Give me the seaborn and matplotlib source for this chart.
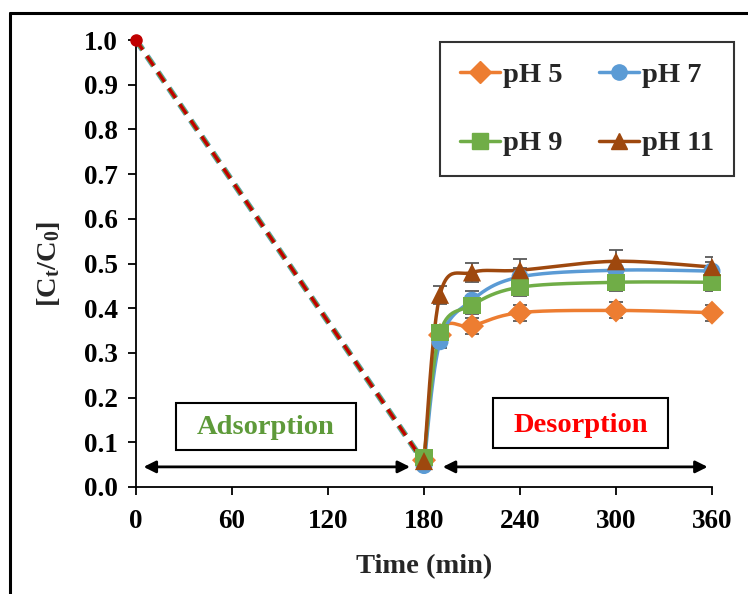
import numpy as np
import matplotlib
matplotlib.use("Agg")
import matplotlib.pyplot as plt
import seaborn as sns
import pandas as pd
from matplotlib.lines import Line2D

# ---------------- data ----------------
ads_time = [0, 180]
ads_value = [1.0, 0.055]

des_time = [180, 190, 210, 240, 300, 360]
ph5 = [0.060, 0.340, 0.360, 0.390, 0.395, 0.390]
ph7 = [0.048, 0.325, 0.418, 0.470, 0.485, 0.483]
ph9 = [0.066, 0.345, 0.407, 0.447, 0.458, 0.458]
ph11 = [0.058, 0.430, 0.480, 0.485, 0.505, 0.492]
err5 = [0.0, 0.015, 0.018, 0.018, 0.018, 0.018]
err7 = [0.0, 0.015, 0.02, 0.02, 0.02, 0.02]
err9 = [0.0, 0.015, 0.02, 0.02, 0.02, 0.02]
err11 = [0.0, 0.02, 0.022, 0.025, 0.025, 0.022]
labels = ["pH 5", "pH 7", "pH 9", "pH 11"]
colors = ["#ED7D31", "#5B9BD5", "#70AD47", "#9E480E"]
markers = ["D", "o", "s", "^"]
xticks = [0, 60, 120, 180, 240, 300, 360]

sns.set_theme(style="ticks")
plt.rcParams["font.family"] = ["Liberation Serif", "DejaVu Serif"]
plt.rcParams["font.weight"] = "bold"
plt.rcParams["mathtext.default"] = "regular"
plt.rcParams["lines.scale_dashes"] = False

FS = 19.5

fig = plt.figure(figsize=(7.48, 5.94), dpi=100)
W, H = 748, 594
ax = fig.add_axes([136 / W, 1 - 487 / H, (712 - 136) / W, (487 - 40) / H])

def smooth(xs, ys, n=30):
    # Excel-like smoothed line (cubic Bezier through the points), in display-like units
    sx, sy = 576 / 360.0, 447.0
    P = np.column_stack([np.asarray(xs) * sx, np.asarray(ys) * sy])
    P = np.vstack([P[0], P, P[-1]])
    out = []
    for i in range(1, len(P) - 2):
        p0, p1, p2, p3 = P[i - 1], P[i], P[i + 1], P[i + 2]
        c1 = p1 + (p2 - p0) / 6.0
        c2 = p2 - (p3 - p1) / 6.0
        t = np.linspace(0, 1, n)[:, None]
        seg = (1 - t) ** 3 * p1 + 3 * (1 - t) ** 2 * t * c1 + 3 * (1 - t) * t ** 2 * c2 + t ** 3 * p2
        out.append(seg)
    out = np.vstack(out)
    return out[:, 0] / sx, out[:, 1] / sy

# adsorption dashed lines (overlapping series)
for c, lw in [("#5B9BD5", 4.4), ("#70AD47", 3.6), ("#C00000", 2.4)]:
    ax.plot(ads_time, ads_value, ls=(0, (8.5, 5.5)), color=c, lw=lw, zorder=2, clip_on=False)
ax.plot([0], [1.0], "o", color="#C00000", ms=8, zorder=5, clip_on=False)

series = [ph5, ph7, ph9, ph11]
errs = [err5, err7, err9, err11]
rows = []
for lab, s in zip(labels, series):
    for t, v in zip(des_time, s):
        rows.append({"time": t, "value": v, "series": lab})
df = pd.DataFrame(rows)

for lab, s, e, c, m in zip(labels, series, errs, colors, markers):
    xs, ys = smooth(des_time, s)
    ax.plot(xs, ys, color=c, lw=2.5, zorder=3)
    ax.errorbar(des_time[1:], s[1:], yerr=e[1:], fmt="none", ecolor="#595959",
                elinewidth=1.3, capsize=5, capthick=1.3, zorder=2)
    sub = df[df["series"] == lab]
    sns.scatterplot(data=sub, x="time", y="value", marker=m, color=c, s=150 if m != "^" else 170,
                    edgecolor="none", ax=ax, zorder=4, legend=False, clip_on=False)

ax.set_xlim(0, 360)
ax.set_ylim(0, 1.0)
ax.set_xticks(xticks)
ax.set_yticks(np.round(np.arange(0, 1.01, 0.1), 1))
ax.set_yticklabels([f"{v:.1f}" for v in np.arange(0, 1.01, 0.1)])
ax.tick_params(axis="both", labelsize=FS, length=6, width=1.3, direction="out", pad=7, colors="black")
ax.tick_params(axis="x", pad=10)
for lab in ax.get_xticklabels() + ax.get_yticklabels():
    lab.set_fontweight("bold")
sns.despine(ax=ax)
for sp in ["left", "bottom"]:
    ax.spines[sp].set_linewidth(1.3)
    ax.spines[sp].set_color("black")
ax.set_xlabel("Time (min)", fontsize=FS + 1, fontweight="bold", labelpad=14)
ax.set_ylabel("[C$_t$/C$_0$]", fontsize=FS + 1, fontweight="bold", labelpad=16)
ax.patch.set_alpha(0)

# arrows
ax.annotate("", xy=(3, 0.045), xytext=(173, 0.045),
            arrowprops=dict(arrowstyle="<|-|>", color="black", lw=2, mutation_scale=18))
ax.annotate("", xy=(190, 0.045), xytext=(359, 0.045),
            arrowprops=dict(arrowstyle="<|-|>", color="black", lw=2, mutation_scale=18))

# labels in boxes
fig.text((176 + 356) / 2 / W, 1 - 428 / H, "Adsorption", color="#5E9A3A", fontsize=20.5, fontweight="bold",
         ha="center", va="center")
fig.patches.append(plt.Rectangle((176 / W, 1 - 450 / H), 180 / W, 47 / H, transform=fig.transFigure,
                                 fill=False, ec="black", lw=1.5))
fig.text((493 + 668) / 2 / W, 1 - 425 / H, "Desorption", color="#FF0000", fontsize=20.5, fontweight="bold",
         ha="center", va="center")
fig.patches.append(plt.Rectangle((493 / W, 1 - 448 / H), 175 / W, 50 / H, transform=fig.transFigure,
                                 fill=False, ec="black", lw=1.5))

# legend (row-wise order: pH 5, pH 7 / pH 9, pH 11)
handles = [Line2D([0], [0], color=c, marker=m, lw=2.5, ms=11 if m != "^" else 12)
           for c, m in zip(colors, markers)]
order = [0, 2, 1, 3]
leg = fig.legend([handles[i] for i in order], [labels[i] for i in order], loc="upper left",
                 bbox_to_anchor=(440 / W, 1 - 42 / H),
                 ncol=2, frameon=True, fancybox=False, edgecolor="black",
                 prop={"weight": "bold", "size": 20.5, "family": "Liberation Serif"},
                 handlelength=1.4, handletextpad=0.1, columnspacing=1.3, labelspacing=1.5,
                 borderpad=0.7, borderaxespad=0)
leg.get_frame().set_linewidth(1.5)

# outer frame
fig.add_artist(Line2D([10 / W, 10 / W], [0, 1 - 13 / H], color="black", lw=2.2, transform=fig.transFigure))
fig.add_artist(Line2D([10 / W, 1], [1 - 13 / H, 1 - 13 / H], color="black", lw=2.2, transform=fig.transFigure))

fig.savefig("out.png", dpi=100)
